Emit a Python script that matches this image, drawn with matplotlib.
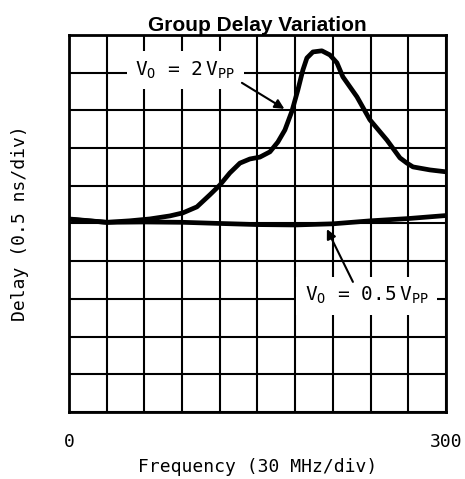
import numpy as np
import matplotlib.pyplot as plt

plt.rcParams['font.family'] = 'DejaVu Sans Mono'

# data (frequency in MHz, delay in divisions of 0.5 ns)
freq_2vpp = [0, 30.2, 48.5, 64.5, 80.4, 90.7, 101.9, 112.2, 120.2, 128.1, 136.1, 144.0, 152.0, 160.0,
             166.3, 171.9, 177.5, 182.2, 186.2, 189.4, 194.2, 201.3, 207.7, 213.3, 218.0, 229.2, 239.5,
             253.1, 263.4, 269.0, 273.8, 287.3, 300]
delay_2vpp = [5.12, 5.03, 5.07, 5.12, 5.20, 5.28, 5.44, 5.76, 6.02, 6.34, 6.60, 6.71, 6.76, 6.90,
              7.16, 7.48, 7.98, 8.54, 9.07, 9.39, 9.55, 9.58, 9.47, 9.26, 8.89, 8.36, 7.75,
              7.21, 6.74, 6.60, 6.50, 6.42, 6.37]
freq_05vpp = [0, 30, 60, 91, 120, 150, 180, 210, 240, 270, 300]
delay_05vpp = [5.11, 5.03, 5.04, 5.03, 5.0, 4.97, 4.96, 4.99, 5.07, 5.13, 5.21]
xtick_labels = ['0', '', '', '', '', '', '', '', '', '', '300']

fig = plt.figure(figsize=(4.65, 4.79), dpi=100)
ax = fig.add_axes([0.148, 0.140, 0.811, 0.787])

ax.plot(freq_2vpp, delay_2vpp, color='black', lw=3.4, solid_joinstyle='round', solid_capstyle='butt', zorder=3)
ax.plot(freq_05vpp, delay_05vpp, color='black', lw=3.4, solid_joinstyle='round', solid_capstyle='butt', zorder=3)

ax.set_xlim(0, 300)
ax.set_ylim(0, 10)
ax.set_xticks(np.arange(0, 301, 30))
ax.set_xticklabels(xtick_labels, fontsize=13)
ax.set_yticks(np.arange(0, 11, 1))
ax.set_yticklabels([])
ax.tick_params(length=0, pad=15)
ax.grid(True, color='black', lw=1.5)
for s in ax.spines.values():
    s.set_linewidth(2)

ax.set_title('Group Delay Variation', fontsize=15, fontweight='bold', family='Liberation Sans', pad=3)
ax.set_xlabel('Frequency (30 MHz/div)', fontsize=13)
ax.xaxis.set_label_coords(0.5, -0.122)
ax.set_ylabel('Delay (0.5 ns/div)', fontsize=13)
ax.yaxis.set_label_coords(-0.105, 0.5)

box = dict(facecolor='white', edgecolor='none', pad=6)
ax.text(93, 9.07, r'V$_\mathregular{O}$ = 2$\,$V$_\mathregular{PP}$', fontsize=14,
        ha='center', va='center', bbox=box, zorder=4)
ax.annotate('', xy=(171.5, 8.04), xytext=(137.7, 8.73),
            arrowprops=dict(arrowstyle='-|>', color='black', lw=1.5, mutation_scale=14,
                            shrinkA=0, shrinkB=0), zorder=5)
ax.text(237, 3.08, r'V$_\mathregular{O}$ = 0.5$\,$V$_\mathregular{PP}$', fontsize=14,
        ha='center', va='center', bbox=box, zorder=4)
ax.annotate('', xy=(205.3, 4.85), xytext=(226, 3.45),
            arrowprops=dict(arrowstyle='-|>', color='black', lw=1.5, mutation_scale=14,
                            shrinkA=0, shrinkB=0), zorder=5)

plt.savefig('out.png', dpi=100)
